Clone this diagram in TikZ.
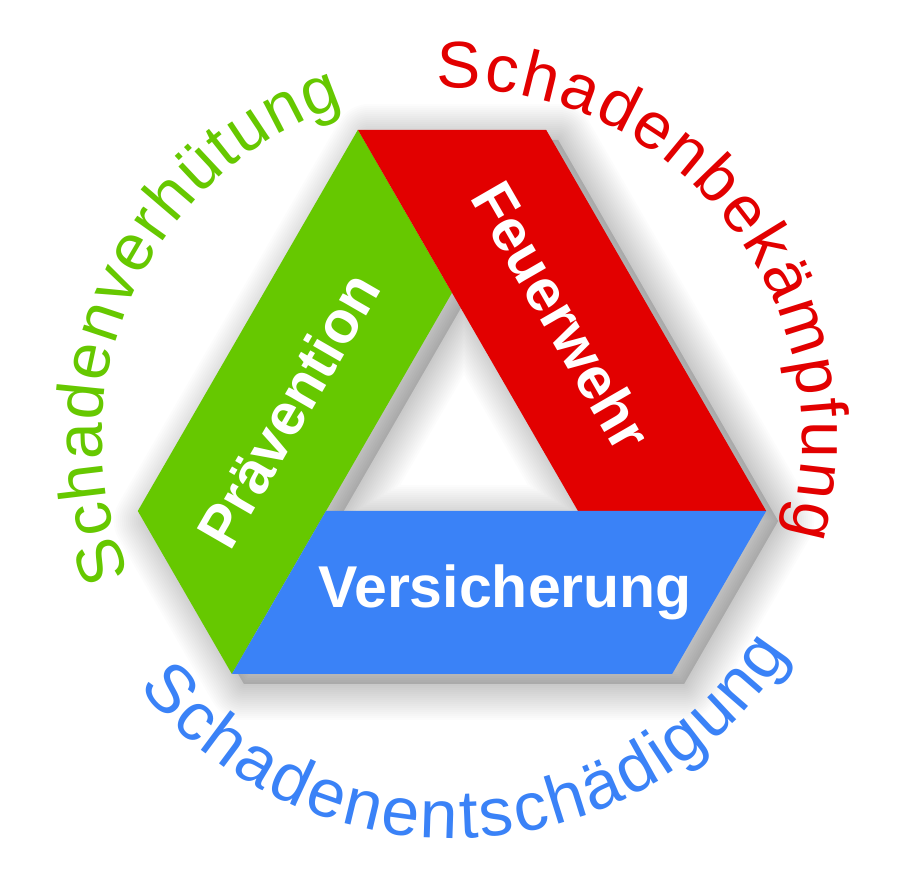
\documentclass[tikz,border=0pt]{standalone}
\usepackage{fontspec}
\setmainfont{Liberation Sans}
\newfontfamily\arcfnt{Liberation Sans}
\usetikzlibrary{decorations.text}
\definecolor{gr}{RGB}{102,200,0}
\definecolor{rd}{RGB}{226,0,0}
\definecolor{bl}{RGB}{58,130,247}
\tikzset{
  lab/.style={text=white, font=\bfseries\fontsize{59}{59}\selectfont, inner sep=0pt},
  arctext/.style={decorate, decoration={text along path, text align={fit to path}, text={#1}}}
}
\newcommand{\hexshape}{(357.9,762.2)--(546.1,762.2)--(766.2,381)--(672.1,218)--(231.9,218)--(137.8,381)--cycle (452,599.2)--(326,381)--(578,381)--cycle}
\newcommand{\arcsize}{\fontsize{66}{66}\selectfont}
\newcommand{\arcsizeb}{\fontsize{68}{68}\selectfont}
\begin{document}
\begin{tikzpicture}[x=1pt,y=1pt]
\useasboundingbox (0,0) rectangle (900,892);
\fill[white] (0,0) rectangle (900,892);
% corner points
\coordinate (P1) at (357.9,762.2);
\coordinate (P2) at (546.1,762.2);
\coordinate (P3) at (766.2,381);
\coordinate (R) at (578,381);
\coordinate (L) at (326,381);
\coordinate (A) at (452,599.2);
\coordinate (Q1) at (672.1,218);
\coordinate (Q2) at (231.9,218);
\coordinate (G1) at (137.8,381);
\coordinate (C) at (452,453.7);
% soft shadow
\begin{scope}[shift={(12,-10)}]
  \fill[black, opacity=0.12, even odd rule] \hexshape;
  \foreach \k in {1,...,18}{
    \draw[black, opacity=0.013, line width=4*\k pt, line join=round] \hexshape;
  }
\end{scope}
% bands
\fill[gr] (P1) -- (A) -- (Q2) -- (G1) -- cycle;
\fill[rd] (P1) -- (P2) -- (P3) -- (R) -- cycle;
\fill[bl] (L) -- (P3) -- (Q1) -- (Q2) -- cycle;
% band labels
\node[lab, rotate=60] (prae) at (288,482) {Prävention};
\node[lab, rotate=-60] (feuer) at (562,576) {Feuerwehr};
\node[lab, anchor=base] (vers) at (505,284.4) {Versicherung};
% curved texts
\path[arctext={|\color{gr}\arcfnt\arcsize|Schadenverhütung}]
  ([shift={(C)}]203:350pt) arc[start angle=203, end angle=108, radius=350pt];
\path[arctext={|\color{rd}\arcfnt\arcsize|Schadenbekämpfung}]
  ([shift={(C)}]92.5:350pt) arc[start angle=92.5, end angle=-16, radius=350pt];
\path[arctext={|\color{bl}\arcfnt\arcsizeb|Schadenentschädigung}]
  ([shift={(C)}]218.5:400pt) arc[start angle=218.5, end angle=327.5, radius=400pt];
\end{tikzpicture}
\end{document}
